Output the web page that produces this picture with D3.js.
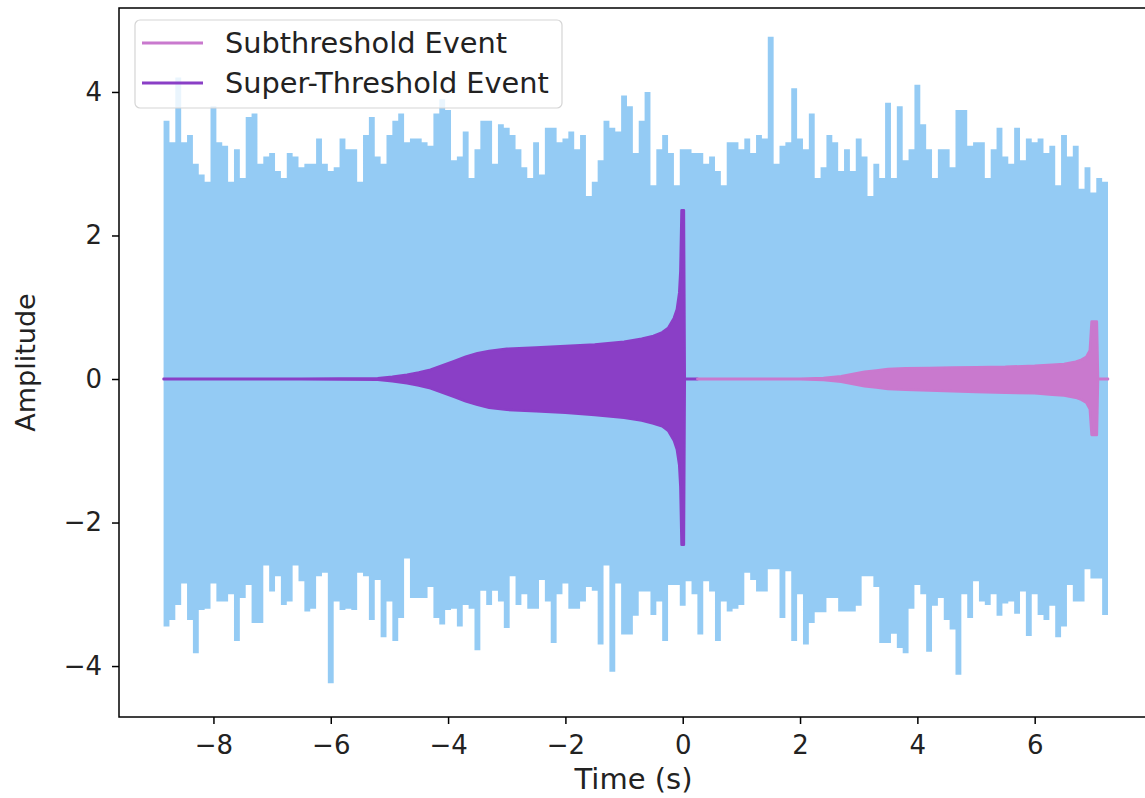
<!DOCTYPE html>
<html>
<head>
<meta charset="utf-8">
<script src="https://cdn.jsdelivr.net/npm/d3@7"></script>
<style>
  body { margin: 0; background: #fff; }
  text { font-family: "DejaVu Sans", sans-serif; fill: #222; }
</style>
</head>
<body>
<svg width="1145" height="798"></svg>
<script>
// noise envelope, one value per 0.1 s bin starting at -8.85 s
var noiseStart = -8.85, noiseStep = 0.1;
var noiseTop = [
  3.6, 3.3, 4.2, 3.3, 3.4, 3.0, 2.85, 2.75, 3.8, 3.3,
  3.25, 2.75, 3.2, 2.8, 3.65, 3.7, 3.0, 3.1, 3.15, 2.9,
  2.8, 3.15, 3.1, 2.95, 3.0, 3.0, 3.35, 3.0, 2.9, 2.95,
  3.35, 3.2, 3.2, 2.75, 3.4, 3.65, 3.1, 3.0, 3.4, 3.6,
  3.7, 3.3, 3.35, 3.35, 3.3, 3.25, 3.7, 3.9, 3.75, 3.05,
  3.1, 3.45, 2.8, 3.2, 3.6, 3.6, 3.0, 3.55, 3.5, 3.4,
  3.2, 2.95, 2.8, 3.3, 2.85, 3.5, 3.5, 3.3, 3.35, 3.45,
  3.2, 3.4, 2.55, 2.75, 3.05, 3.6, 3.5, 3.45, 3.95, 3.8,
  3.15, 3.6, 4.0, 2.7, 3.2, 3.4, 3.15, 2.7, 3.2, 3.2,
  3.15, 3.15, 3.0, 3.1, 2.9, 2.7, 3.3, 3.3, 3.2, 3.35,
  3.15, 3.4, 3.35, 4.77, 3.0, 3.25, 3.3, 4.05, 3.35, 3.2,
  3.7, 2.8, 2.95, 3.4, 3.3, 2.9, 3.2, 2.9, 3.35, 3.1,
  2.55, 3.0, 2.8, 3.85, 2.8, 3.8, 3.05, 3.2, 4.1, 3.55,
  3.2, 2.8, 3.2, 3.2, 2.95, 3.75, 3.75, 3.25, 3.3, 3.3,
  2.8, 3.2, 3.5, 3.1, 3.0, 3.5, 3.05, 3.35, 3.3, 3.35,
  3.15, 3.25, 2.7, 3.4, 3.1, 3.25, 2.65, 2.95, 2.6, 2.8, 2.75
];
var noiseBottom = [
  -3.45, -3.36, -3.15, -2.85, -3.36, -3.82, -3.22, -3.2, -2.85, -3.1,
  -3.1, -3.0, -3.65, -3.05, -2.87, -3.4, -3.4, -2.6, -2.96, -2.75,
  -3.15, -3.1, -2.6, -2.82, -3.24, -3.2, -2.75, -2.7, -4.24, -3.1,
  -3.22, -3.2, -3.22, -2.7, -2.75, -3.36, -2.8, -3.6, -3.1, -3.65,
  -3.33, -2.5, -3.05, -3.05, -3.05, -2.9, -3.33, -3.42, -3.22, -3.2,
  -3.45, -3.15, -3.2, -3.78, -2.95, -3.15, -2.95, -3.1, -3.47, -2.75,
  -3.15, -3.0, -3.2, -3.2, -2.8, -3.1, -3.68, -3.0, -2.85, -3.2,
  -3.2, -3.1, -2.9, -2.95, -3.7, -2.6, -4.08, -2.85, -3.56, -3.56,
  -3.3, -2.96, -2.96, -3.29, -3.1, -3.65, -2.87, -2.87, -3.16, -2.82,
  -3.0, -3.56, -2.82, -2.96, -3.65, -3.1, -3.24, -3.2, -3.15, -2.7,
  -2.8, -2.96, -2.96, -2.65, -2.65, -3.33, -2.68, -3.65, -3.0, -3.7,
  -3.4, -3.25, -3.25, -3.05, -3.05, -3.24, -3.24, -3.24, -3.16, -2.75,
  -2.75, -2.9, -3.68, -3.68, -3.55, -3.75, -3.82, -3.2, -2.87, -3.0,
  -3.8, -3.16, -3.05, -3.36, -3.49, -4.12, -3.0, -3.33, -2.82, -3.1,
  -3.15, -3.0, -3.3, -3.13, -3.1, -3.27, -2.96, -3.58, -3.0, -3.29,
  -3.36, -3.16, -3.6, -3.45, -2.87, -3.1, -3.1, -2.65, -2.78, -2.78, -3.29
];

// super-threshold chirp envelope
var superT   = [-8.85, -6.5, -5.2, -4.95, -4.7, -4.5, -4.3, -4.1, -3.9, -3.7, -3.5, -3.3, -3.0, -2.5, -2.0, -1.5, -1.0, -0.7, -0.5, -0.35, -0.25, -0.15, -0.1, -0.06, -0.04, -0.02, 0.02, 0.035, 0.25];
var superUp  = [0.005, 0.005, 0.01, 0.03, 0.06, 0.09, 0.13, 0.19, 0.25, 0.31, 0.36, 0.39, 0.42, 0.44, 0.46, 0.48, 0.52, 0.56, 0.6, 0.65, 0.71, 0.85, 0.97, 1.2, 1.5, 2.35, 2.35, 0.005, 0.005];
var superLow = [-0.005, -0.005, -0.01, -0.03, -0.06, -0.09, -0.13, -0.19, -0.25, -0.31, -0.36, -0.4, -0.43, -0.45, -0.47, -0.5, -0.54, -0.58, -0.62, -0.66, -0.72, -0.86, -0.98, -1.2, -1.5, -2.31, -2.31, -0.005, -0.005];

// subthreshold event envelope
var subT   = [0.25, 2.0, 2.4, 2.7, 2.9, 3.1, 3.3, 3.5, 3.8, 4.2, 4.6, 5.0, 5.5, 6.0, 6.3, 6.5, 6.7, 6.8, 6.88, 6.94, 6.97, 7.06, 7.08, 7.25];
var subUp  = [0.005, 0.005, 0.015, 0.04, 0.07, 0.1, 0.12, 0.14, 0.15, 0.155, 0.16, 0.165, 0.17, 0.185, 0.2, 0.21, 0.24, 0.27, 0.31, 0.4, 0.8, 0.8, 0.005, 0.005];
var subLow = [-0.005, -0.005, -0.015, -0.04, -0.07, -0.1, -0.12, -0.14, -0.15, -0.16, -0.17, -0.18, -0.19, -0.2, -0.22, -0.23, -0.26, -0.29, -0.33, -0.42, -0.78, -0.78, -0.005, -0.005];

var xTicks = [-8, -6, -4, -2, 0, 2, 4, 6];
var yTicks = [-4, -2, 0, 2, 4];
var legendNames = ["Subthreshold Event", "Super-Threshold Event"];

var colNoise = "#94cbf4", colSuper = "#8a3fc6", colSub = "#c979ce";

var svg = d3.select("svg");
var pL = 119, pR = 1152, pT = 8, pB = 717;

var x = d3.scaleLinear().domain([-9.61, 8.0]).range([pL, pR]);
var y = d3.scaleLinear().domain([-4.71, 5.17]).range([pB, pT]);

svg.append("clipPath").attr("id", "plot")
  .append("rect").attr("x", pL).attr("y", pT)
  .attr("width", pR - pL).attr("height", pB - pT);

var g = svg.append("g").attr("clip-path", "url(#plot)");

// noise band
var noise = noiseTop.map(function(v, i) {
  return { t: noiseStart + i * noiseStep, hi: v, lo: noiseBottom[i] };
});
var lastN = noise[noise.length - 1];
noise.push({ t: noiseStart + noiseTop.length * noiseStep, hi: lastN.hi, lo: lastN.lo });

g.append("path")
  .datum(noise)
  .attr("fill", colNoise)
  .attr("d", d3.area()
    .curve(d3.curveStepAfter)
    .x(function(d) { return x(d.t); })
    .y0(function(d) { return y(d.lo); })
    .y1(function(d) { return y(d.hi); }));

function envelope(ts, ups, lows, col) {
  var pts = ts.map(function(t, i) { return { t: t, hi: ups[i], lo: lows[i] }; });
  g.append("path")
    .datum(pts)
    .attr("fill", col)
    .attr("stroke", col)
    .attr("stroke-width", 2.5)
    .attr("stroke-linejoin", "round")
    .attr("d", d3.area()
      .x(function(d) { return x(d.t); })
      .y0(function(d) { return y(d.lo); })
      .y1(function(d) { return y(d.hi); }));
}
envelope(superT, superUp, superLow, colSuper);
envelope(subT, subUp, subLow, colSub);

// axes
var fmt = function(d) { return d < 0 ? "\u2212" + Math.abs(d) : "" + d; };

var gx = svg.append("g")
  .attr("transform", "translate(0," + pB + ")")
  .call(d3.axisBottom(x).tickValues(xTicks).tickFormat(fmt).tickSize(7).tickPadding(12).tickSizeOuter(0));
var gy = svg.append("g")
  .attr("transform", "translate(" + pL + ",0)")
  .call(d3.axisLeft(y).tickValues(yTicks).tickFormat(fmt).tickSize(7).tickPadding(10).tickSizeOuter(0));

[gx, gy].forEach(function(a) {
  a.select(".domain").remove();
  a.selectAll(".tick line").attr("stroke", "#000").attr("stroke-width", 1.5);
  a.selectAll(".tick text").style("font-size", "26px").attr("fill", "#222");
});

// spines
svg.append("rect")
  .attr("x", pL).attr("y", pT)
  .attr("width", pR - pL).attr("height", pB - pT)
  .attr("fill", "none").attr("stroke", "#000").attr("stroke-width", 1.5);

svg.append("text")
  .attr("x", (pL + pR) / 2 - 2).attr("y", 789)
  .attr("text-anchor", "middle")
  .style("font-size", "29px")
  .text("Time (s)");

svg.append("text")
  .attr("transform", "translate(35," + ((pT + pB) / 2) + ") rotate(-90)")
  .attr("text-anchor", "middle")
  .style("font-size", "27px")
  .text("Amplitude");

// legend
var leg = svg.append("g");
leg.append("rect")
  .attr("x", 135).attr("y", 20).attr("width", 427).attr("height", 88).attr("rx", 5)
  .attr("fill", "#fff").attr("fill-opacity", 0.8)
  .attr("stroke", "#d5d5d5").attr("stroke-width", 1.2);

[colSub, colSuper].forEach(function(c, i) {
  var yy = 43 + i * 40;
  leg.append("line")
    .attr("x1", 142).attr("x2", 203).attr("y1", yy).attr("y2", yy)
    .attr("stroke", c).attr("stroke-width", 3);
  leg.append("text")
    .attr("x", 225).attr("y", yy + 10)
    .style("font-size", "28.8px")
    .text(legendNames[i]);
});
</script>
</body>
</html>
